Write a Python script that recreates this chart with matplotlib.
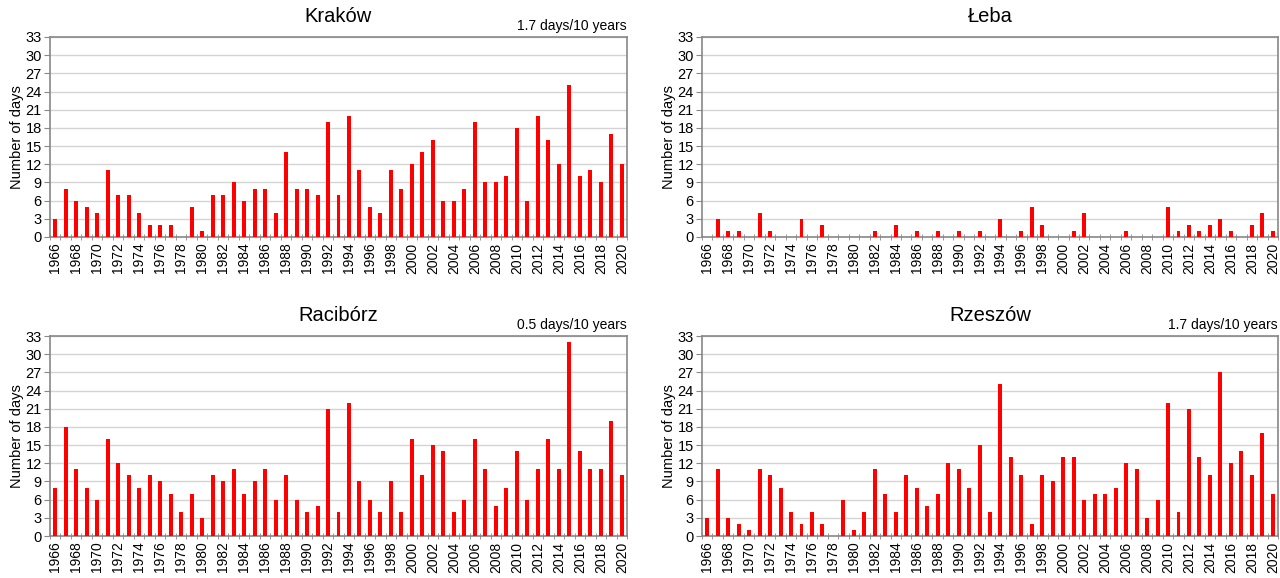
import numpy as np
import matplotlib
matplotlib.use("Agg")
import matplotlib.pyplot as plt

plt.rcParams['font.family'] = ['Liberation Sans', 'DejaVu Sans']

years = list(range(1966, 2021))

krakow = [3, 8, 6, 5, 4, 11, 7, 7, 4, 2, 2, 2, 0, 5, 1, 7, 7, 9, 6, 8, 8, 4, 14, 8, 8, 7,
          19, 7, 20, 11, 5, 4, 11, 8, 12, 14, 16, 6, 6, 8, 19, 9, 9, 10, 18, 6, 20, 16, 12,
          25, 10, 11, 9, 17, 12]
leba = [0, 3, 1, 1, 0, 4, 1, 0, 0, 3, 0, 2, 0, 0, 0, 0, 1, 0, 2, 0, 1, 0, 1, 0, 1, 0,
        1, 0, 3, 0, 1, 5, 2, 0, 0, 1, 4, 0, 0, 0, 1, 0, 0, 0, 5, 1, 2, 1, 2,
        3, 1, 0, 2, 4, 1]
raciborz = [8, 18, 11, 8, 6, 16, 12, 10, 8, 10, 9, 7, 4, 7, 3, 10, 9, 11, 7, 9, 11, 6, 10, 6, 4, 5,
            21, 4, 22, 9, 6, 4, 9, 4, 16, 10, 15, 14, 4, 6, 16, 11, 5, 8, 14, 6, 11, 16, 11,
            32, 14, 11, 11, 19, 10]
rzeszow = [3, 11, 3, 2, 1, 11, 10, 8, 4, 2, 4, 2, 0, 6, 1, 4, 11, 7, 4, 10, 8, 5, 7, 12, 11, 8,
           15, 4, 25, 13, 10, 2, 10, 9, 13, 13, 6, 7, 7, 8, 12, 11, 3, 6, 22, 4, 21, 13, 10,
           27, 12, 14, 10, 17, 7]

stations = ['Kraków', 'Łeba', 'Racibórz', 'Rzeszów']
series = [krakow, leba, raciborz, rzeszow]
trends = ['1.7 days/10 years', '', '0.5 days/10 years', '1.7 days/10 years']

fig = plt.figure(figsize=(12.8, 5.78), dpi=100)
W, H = 1280, 578
# axes boxes in pixels: left, top, right, bottom
boxes = [(50, 37, 627, 237), (702, 37, 1278, 237),
         (50, 336, 627, 536), (702, 336, 1278, 536)]

x = np.arange(len(years))
for name, vals, trend, (l, t, r, b) in zip(stations, series, trends, boxes):
    ax = fig.add_axes([l / W, 1 - b / H, (r - l) / W, (b - t) / H])
    ax.bar(x, vals, width=0.38, color='#ff0000', zorder=3)
    ax.set_xlim(-0.5, len(years) - 0.5)
    ax.set_ylim(0, 33)
    ax.set_yticks(range(0, 34, 3))
    ax.yaxis.grid(True, color='#d4d4d4', linewidth=1, zorder=0)
    ax.set_xticks(x[::2])
    ax.set_xticklabels([str(y) for y in years[::2]], rotation=90, fontsize=10)
    ax.set_xticks(np.arange(-0.5, len(years)), minor=True)
    ax.tick_params(axis='x', which='major', length=0, pad=4)
    ax.tick_params(axis='x', which='minor', length=5, direction='inout', color='#888888')
    ax.tick_params(axis='y', length=4, direction='out', color='#888888', labelsize=10.5, pad=2)
    for s in ax.spines.values():
        s.set_color('#888888')
        s.set_linewidth(1.2)
    ax.set_ylabel('Number of days', fontsize=10.5, labelpad=1)
    ax.set_title(name, fontsize=14.5, pad=11)
    if trend:
        ax.text(1.0, 1.02, trend, transform=ax.transAxes, ha='right', va='bottom', fontsize=10)

fig.savefig('out.png', dpi=100)
